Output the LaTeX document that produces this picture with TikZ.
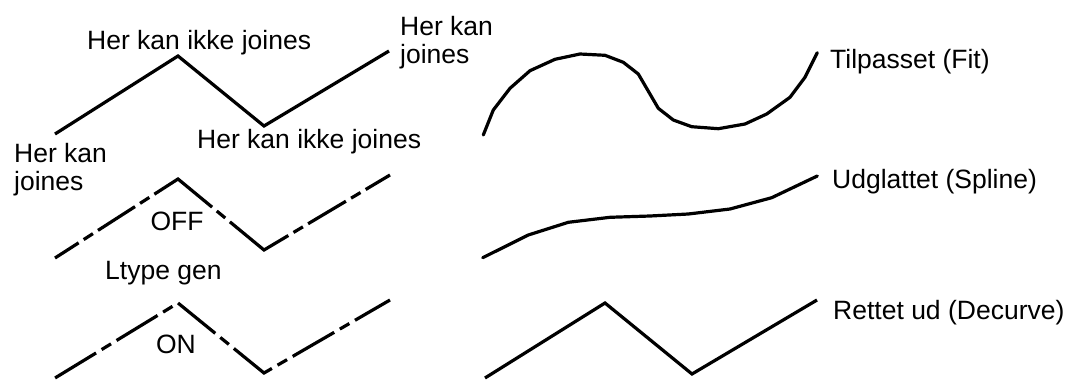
\documentclass[tikz,border=0pt]{standalone}
\usepackage{fontspec}
\setmainfont{Liberation Sans}
\begin{document}
\begin{tikzpicture}[x=1pt,y=-1pt,
  ln/.style={line width=3.2pt, line join=miter},
  curve/.style={line width=3.2pt, line join=round, line cap=round},
  lbl/.style={font=\fontsize{26.5}{28.5}\selectfont, inner sep=0pt}]
\useasboundingbox (0,0) rectangle (1067,380);

% top solid polyline
\coordinate (a1) at (55,134);
\coordinate (a2) at (178,56);
\coordinate (a3) at (264,126);
\coordinate (a4) at (389,51);
\draw[ln] (a1) -- (a2) -- (a3) -- (a4);

% Ltype gen OFF polyline
\coordinate (b1) at (55,258);
\coordinate (b2) at (178,179);
\coordinate (b3) at (264,250);
\coordinate (b4) at (390,175);
\draw[ln, dash pattern=on 28.09pt off 6pt on 11pt off 6pt on 44pt off 6pt on 11pt off 6pt
  on 72.35pt off 6pt on 11pt off 6pt on 72.58pt off 6pt on 11pt off 6pt on 44pt off 6pt
  on 11pt off 6pt on 40pt off 200pt]
  (b1) -- (b2) -- (b3) -- (b4);

% Ltype gen ON polyline
\coordinate (c1) at (55,378);
\coordinate (c2) at (178,303);
\coordinate (c3) at (264,373);
\coordinate (c4) at (390,300);
\draw[ln, dash pattern=on 48pt off 6.5pt on 11pt off 6.5pt, dash phase=71.9pt]
  (c1) -- (c2) -- (c3) -- (c4);

% Fit curve
\draw[curve] plot coordinates {(483.3,135) (493.3,110) (510,88.3) (530,70.7) (555,59.3)
  (580,54) (605,55.3) (623.3,62.3) (638.3,74) (658.3,108.3) (673.3,120) (691.7,126.7)
  (718.3,128.7) (745,124) (766.7,114) (790,97.3) (805,77.3) (817.3,52.7)};

% Spline curve
\draw[curve] plot coordinates {(482.7,257.7) (528.3,235) (568.3,222.3) (610,217.3)
  (650,216) (688.3,214) (730,209) (771.7,197.7) (817.3,176)};

% Decurve polyline
\coordinate (d1) at (485,378);
\coordinate (d2) at (605,303);
\coordinate (d3) at (692,374);
\coordinate (d4) at (817,300);
\draw[ln] (d1) -- (d2) -- (d3) -- (d4);

% labels
\node[lbl, anchor=base west] (t1) at (87,49) {Her kan ikke joines};
\node[lbl, anchor=base west] (t2) at (197,148) {Her kan ikke joines};
\node[lbl, anchor=north west, align=left] (t3) at (14,143) {Her kan\\joines};
\node[lbl, anchor=north west, align=left] (t4) at (400,16) {Her kan\\joines};
\node[lbl, anchor=base] (t5) at (177,230) {OFF};
\node[lbl, anchor=base west] (t6) at (105,279) {Ltype gen};
\node[lbl, anchor=base] (t7) at (176,353) {ON};
\node[lbl, anchor=base west] (t8) at (830,68) {Tilpasset (Fit)};
\node[lbl, anchor=base west] (t9) at (832,188) {Udglattet (Spline)};
\node[lbl, anchor=base west] (t10) at (833,319) {Rettet ud (Decurve)};
\end{tikzpicture}
\end{document}
